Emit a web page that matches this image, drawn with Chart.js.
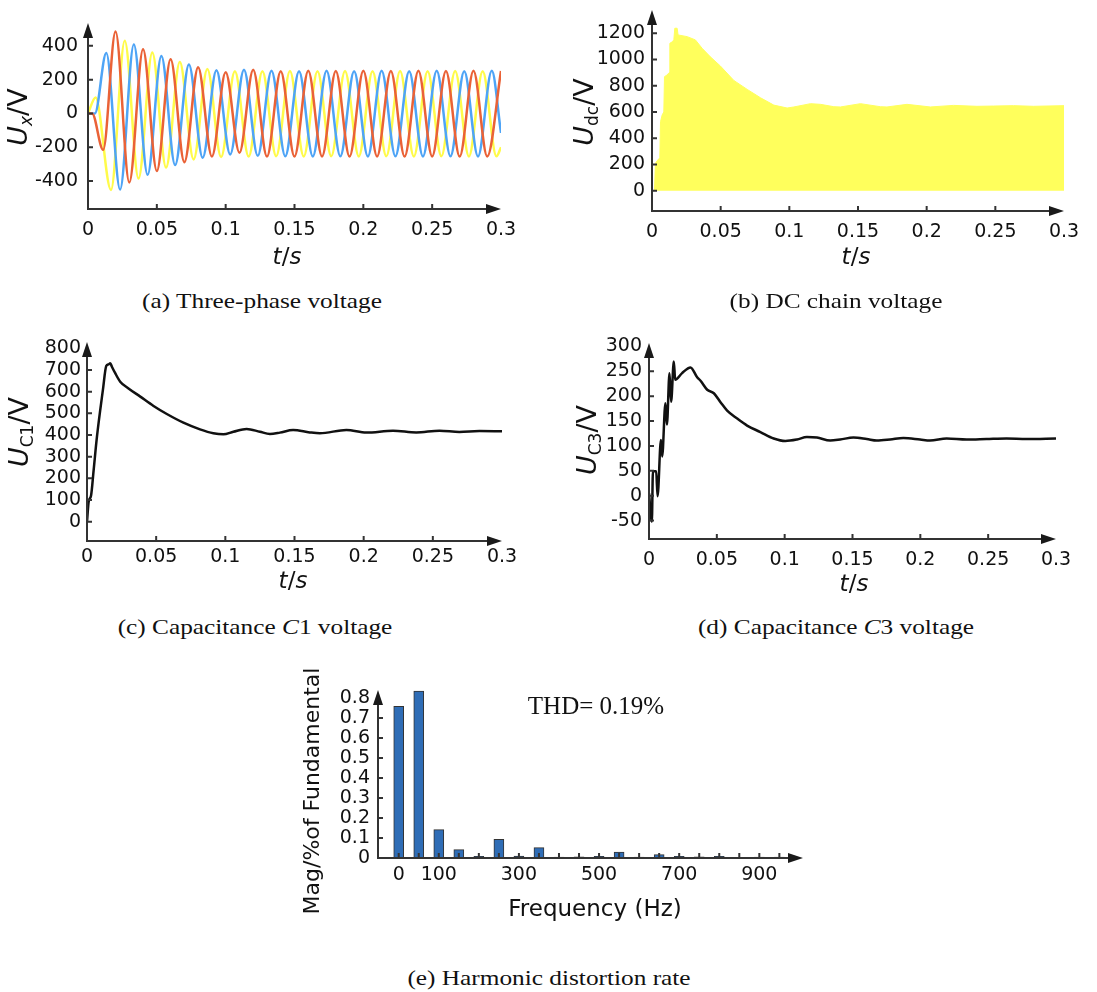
<!DOCTYPE html>
<html>
<head>
<meta charset="utf-8">
<script src="https://cdn.jsdelivr.net/npm/chart.js@4.4.1/dist/chart.umd.min.js"></script>
<style>
body{margin:0;background:#fff;width:1097px;height:992px;position:relative;overflow:hidden;font-family:"DejaVu Sans",sans-serif;color:#111;}
canvas{position:absolute;}
.yt{position:absolute;transform:translate(-50%,-50%) rotate(-90deg);white-space:nowrap;font-size:27px;line-height:1;}
.yt sub{font-size:17px;vertical-align:-5px;}
.xt{position:absolute;transform:translate(-50%,-50%);white-space:nowrap;font-size:23px;line-height:1;}
.cap{position:absolute;transform:translate(-50%,-50%) scaleX(1.15);white-space:nowrap;font-family:"Liberation Serif",serif;font-size:22px;line-height:1;}
.thd{position:absolute;transform:translate(-50%,-50%);white-space:nowrap;font-family:"Liberation Serif",serif;font-size:25px;line-height:1;}
</style>
</head>
<body>
<canvas id="ca" width="520" height="270" style="left:0;top:0"></canvas>
<canvas id="cb" width="537" height="280" style="left:560px;top:0"></canvas>
<canvas id="cc" width="520" height="270" style="left:0;top:330px"></canvas>
<canvas id="cd" width="537" height="270" style="left:560px;top:330px"></canvas>
<canvas id="ce" width="540" height="280" style="left:290px;top:650px"></canvas>

<div class="yt" style="left:19px;top:117px"><i>U</i><sub><i>x</i></sub>/V</div>
<div class="xt" style="left:287px;top:256px"><i>t</i>/<i>s</i></div>
<div class="cap" style="left:262px;top:301px">(a) Three-phase voltage</div>

<div class="yt" style="left:585px;top:112px"><i>U</i><sub>dc</sub>/V</div>
<div class="xt" style="left:856px;top:256px"><i>t</i>/<i>s</i></div>
<div class="cap" style="left:836px;top:301px">(b) DC chain voltage</div>

<div class="yt" style="left:20px;top:432px"><i>U</i><sub>C1</sub>/V</div>
<div class="xt" style="left:293px;top:580px"><i>t</i>/<i>s</i></div>
<div class="cap" style="left:255px;top:627px">(c) Capacitance <i>C</i>1 voltage</div>

<div class="yt" style="left:588px;top:440px"><i>U</i><sub>C3</sub>/V</div>
<div class="xt" style="left:854px;top:583px"><i>t</i>/<i>s</i></div>
<div class="cap" style="left:836px;top:627px">(d) Capacitance <i>C</i>3 voltage</div>

<div class="yt" style="left:312px;top:791px;font-size:22px">Mag/%of Fundamental</div>
<div class="xt" style="left:595px;top:908px">Frequency (Hz)</div>
<div class="thd" style="left:596px;top:705px">THD= 0.19%</div>
<div class="cap" style="left:549px;top:978px">(e) Harmonic distortion rate</div>

<script>
// ---------- data ----------
// (a) three-phase voltage, peaks / troughs of each phase
const redT = [0, 0.003, 0.011, 0.02, 0.03, 0.04, 0.05, 0.06, 0.07, 0.08, 0.09, 0.10, 0.11,
  0.12, 0.13, 0.14, 0.15, 0.16, 0.17, 0.18, 0.19, 0.20, 0.21, 0.22, 0.23, 0.24, 0.25, 0.26, 0.27, 0.28, 0.29, 0.30];
const redV = [0, 0, -215, 484, -408, 380, -340, 321, -288, 274, -255, 243, -232,
  258, -255, 250, -255, 252, -254, 251, -255, 252, -254, 251, -255, 252, -254, 251, -255, 252, -254, 251];

const blueT = [0, 0.005, 0.0133, 0.0233, 0.0333, 0.0433, 0.0533, 0.0633, 0.0733, 0.0833, 0.0933, 0.1033,
  0.1133, 0.1233, 0.1333, 0.1433, 0.1533, 0.1633, 0.1733, 0.1833, 0.1933, 0.2033, 0.2133, 0.2233,
  0.2333, 0.2433, 0.2533, 0.2633, 0.2733, 0.2833, 0.2933, 0.3];
const blueV = [0, 0, 357, -450, 408, -362, 340, -305, 290, -262, 256, -242,
  258, -250, 252, -253, 250, -254, 252, -253, 250, -254, 252, -253,
  250, -254, 252, -253, 250, -254, 252, -115];

const yellowT = [0, 0.0055, 0.0167, 0.0267, 0.0367, 0.0467, 0.0567, 0.0667, 0.0767, 0.0867, 0.0967,
  0.1067, 0.1167, 0.1267, 0.1367, 0.1467, 0.1567, 0.1667, 0.1767, 0.1867, 0.1967, 0.2067, 0.2167,
  0.2267, 0.2367, 0.2467, 0.2567, 0.2667, 0.2767, 0.2867, 0.2967, 0.3];
const yellowV = [0, 95, -452, 430, -385, 360, -320, 305, -272, 263, -258,
  249, -255, 250, -253, 251, -254, 250, -253, 251, -254, 250, -253,
  251, -254, 250, -253, 251, -254, 250, -253, -200];

// (b) DC chain voltage envelope
const dcT = [0, 0.0018, 0.0025, 0.0042, 0.0057, 0.0062, 0.0074, 0.0086, 0.0091, 0.011, 0.0125, 0.013,
  0.0149, 0.0159, 0.0166, 0.0183, 0.019, 0.0256, 0.0316, 0.0365, 0.0425, 0.0498, 0.0596, 0.0693,
  0.079, 0.0887, 0.0984, 0.1033, 0.1154, 0.1227, 0.1324, 0.1372, 0.1518, 0.1663, 0.1711, 0.1857,
  0.2027, 0.2196, 0.2366, 0.2487, 0.2633, 0.2778, 0.3];
const dcV = [0, 0, 209, 234, 250, 526, 577, 600, 869, 882, 900, 1123,
  1136, 1150, 1238, 1238, 1187, 1174, 1149, 1085, 1020, 950, 840, 772,
  708, 652, 630, 638, 663, 658, 640, 638, 663, 640, 638, 658,
  638, 650, 643, 645, 648, 643, 648];

// (c) capacitor C1 voltage
const c1T = [0, 0.0012, 0.0029, 0.0048, 0.0072, 0.0115, 0.0139, 0.0156, 0.0168, 0.018, 0.0204, 0.024,
  0.03, 0.0385, 0.0481, 0.0577, 0.0697, 0.0817, 0.0913, 0.0986, 0.1058, 0.1154, 0.125, 0.1322,
  0.1394, 0.149, 0.161, 0.1683, 0.1875, 0.2019, 0.2212, 0.238, 0.2548, 0.2692, 0.2837, 0.3];
const c1V = [0, 92, 120, 238, 392, 608, 718, 726, 731, 715, 685, 646,
  615, 577, 534, 497, 457, 426, 408, 403, 415, 428, 415, 405,
  411, 423, 412, 408, 423, 411, 420, 412, 420, 414, 418, 417];

// (d) capacitor C3 voltage
const c3T = [0, 0.0021, 0.0029, 0.0053, 0.0063, 0.0088, 0.0097, 0.0121, 0.0132, 0.0151, 0.0163, 0.0183,
  0.0193, 0.0242, 0.0306, 0.0355, 0.038, 0.0429, 0.0478, 0.0527, 0.0576, 0.065, 0.0723, 0.0821,
  0.0919, 0.1005, 0.1091, 0.1164, 0.1238, 0.1336, 0.1409, 0.1507, 0.1605, 0.1679, 0.1777, 0.1875,
  0.1998, 0.2071, 0.2194, 0.2341, 0.2488, 0.2635, 0.2782, 0.3];
const c3V = [5, -52, 49, 49, -1, 112, 79, 186, 143, 246, 189, 270,
  233, 246, 258, 238, 231, 213, 206, 188, 171, 155, 141, 128,
  115, 110, 113, 118, 117, 111, 113, 117, 114, 111, 113, 116,
  113, 111, 115, 113, 114, 115, 114, 115];

// (e) harmonic spectrum
const freqs = [0, 50, 100, 150, 200, 250, 300, 350, 400, 450, 500, 550, 600, 650, 700, 750, 800, 850, 900, 950];
const mags = [0.758, 0.835, 0.142, 0.042, 0.008, 0.093, 0.01, 0.052, 0.005, 0.006,
  0.008, 0.03, 0.005, 0.017, 0.008, 0.006, 0.008, 0.003, 0.004, 0.004];

// tick labels
const tTicks = [0, 0.05, 0.1, 0.15, 0.2, 0.25, 0.3];
const uxTicks = [-400, -200, 0, 200, 400];
const udcTicks = [0, 200, 400, 600, 800, 1000, 1200];
const uc1Ticks = [0, 100, 200, 300, 400, 500, 600, 700, 800];
const uc3Ticks = [-50, 0, 50, 100, 150, 200, 250, 300];
const freqTicks = [0, 100, 300, 500, 700, 900];
const magTicks = [0, 0.1, 0.2, 0.3, 0.4, 0.5, 0.6, 0.7, 0.8];

// ---------- drawing ----------
const pts = (ts, vs) => ts.map((t, i) => ({x: t, y: vs[i]}));
const tickFont = {family: 'DejaVu Sans', size: 19};

// axis lines with arrow heads and inward tick marks
const arrowAxes = {
  id: 'arrowAxes',
  afterDraw(chart, args, o) {
    const {ctx, chartArea: a, scales: {x, y}} = chart;
    ctx.save();
    ctx.strokeStyle = '#333';
    ctx.fillStyle = '#1a1a1a';
    ctx.lineWidth = 2;
    ctx.beginPath();
    ctx.moveTo(a.left, a.top + 10);
    ctx.lineTo(a.left, a.bottom);
    ctx.lineTo(a.right - 10, a.bottom);
    (o.xMarks || []).forEach(v => {
      const px = x.getPixelForValue(v);
      if (px > a.left + 2 && px < a.right - 12) { ctx.moveTo(px, a.bottom); ctx.lineTo(px, a.bottom - 5); }
    });
    (o.yMarks || []).forEach(v => {
      const py = y.getPixelForValue(v);
      if (py < a.bottom - 2 && py > a.top + 12) { ctx.moveTo(a.left, py); ctx.lineTo(a.left + 5, py); }
    });
    ctx.stroke();
    ctx.beginPath();
    ctx.moveTo(a.left, a.top); ctx.lineTo(a.left - 5, a.top + 15); ctx.lineTo(a.left + 5, a.top + 15); ctx.closePath();
    ctx.moveTo(a.right, a.bottom); ctx.lineTo(a.right - 15, a.bottom - 5); ctx.lineTo(a.right - 15, a.bottom + 5); ctx.closePath();
    ctx.fill();
    ctx.restore();
  }
};
Chart.register(arrowAxes);

function frame(f) {
  return {
    responsive: false,
    animation: false,
    events: [],
    layout: {padding: {left: 0, top: f.top, right: f.w - f.right, bottom: 0}},
    plugins: {
      legend: {display: false},
      tooltip: {enabled: false},
      arrowAxes: {xMarks: f.xMarks || f.xTicks, yMarks: f.yTicks}
    },
    scales: {
      x: {
        type: 'linear', min: f.xmin, max: f.xmax, offset: false,
        grid: {display: false, drawTicks: false}, border: {display: false},
        ticks: {font: tickFont, color: '#111', padding: f.xPad, autoSkip: false, maxRotation: 0,
          callback: v => String(v)},
        afterBuildTicks: s => { s.ticks = f.xTicks.map(v => ({value: v})); },
        afterFit: s => { s.height = f.h - f.bottom; s.paddingLeft = 0; s.paddingRight = 0; }
      },
      y: {
        type: 'linear', min: f.ymin, max: f.ymax,
        grid: {display: false, drawTicks: false}, border: {display: false},
        ticks: {font: tickFont, color: '#111', padding: f.yPad, autoSkip: false,
          callback: v => String(v)},
        afterBuildTicks: s => { s.ticks = f.yTicks.map(v => ({value: v})); },
        afterFit: s => { s.width = f.left; s.paddingTop = 0; s.paddingBottom = 0; }
      }
    }
  };
}

const line = (data, color, extra) => Object.assign({
  data, borderColor: color, borderWidth: 2.5, pointRadius: 0,
  cubicInterpolationMode: 'monotone', fill: false
}, extra || {});

// (a)
new Chart(document.getElementById('ca'), {
  type: 'line',
  data: {datasets: [
    line(pts(redT, redV), '#EA6237'),
    line(pts(blueT, blueV), '#4EA4F6'),
    line(pts(yellowT, yellowV), '#FFFB4A')
  ]},
  options: frame({w: 520, h: 270, left: 88, right: 501, top: 23, bottom: 209,
    xmin: 0, xmax: 0.3, ymin: -565, ymax: 535, xTicks: tTicks, yTicks: uxTicks, xPad: 10, yPad: 10})
});

// (b)
new Chart(document.getElementById('cb'), {
  type: 'line',
  data: {datasets: [
    line(pts(dcT, dcV), '#FFFF5C', {fill: 'origin', backgroundColor: '#FFFF5C', borderWidth: 1, cubicInterpolationMode: 'default', tension: 0})
  ]},
  options: frame({w: 537, h: 280, left: 92, right: 504, top: 10, bottom: 211,
    xmin: 0, xmax: 0.3, ymin: -155, ymax: 1377, xTicks: tTicks, yTicks: udcTicks, xPad: 10, yPad: 7})
});

// (c)
new Chart(document.getElementById('cc'), {
  type: 'line',
  data: {datasets: [line(pts(c1T, c1V), '#111')]},
  options: frame({w: 520, h: 270, left: 87, right: 502, top: 12, bottom: 211,
    xmin: 0, xmax: 0.3, ymin: -89, ymax: 829, xTicks: tTicks, yTicks: uc1Ticks, xPad: 5, yPad: 6})
});

// (d)
new Chart(document.getElementById('cd'), {
  type: 'line',
  data: {datasets: [line(pts(c3T, c3V), '#111')]},
  options: frame({w: 537, h: 270, left: 89, right: 496, top: 13, bottom: 209,
    xmin: 0, xmax: 0.3, ymin: -87, ymax: 307, xTicks: tTicks, yTicks: uc3Ticks, xPad: 10, yPad: 7})
});

// (e)
new Chart(document.getElementById('ce'), {
  type: 'bar',
  data: {datasets: [{
    data: pts(freqs, mags), backgroundColor: '#2F6DB6', borderColor: '#333',
    borderWidth: 1, barThickness: 10
  }]},
  options: frame({w: 540, h: 280, left: 88, right: 513, top: 40, bottom: 208,
    xmin: -51.7, xmax: 1009, ymin: 0, ymax: 0.84, xTicks: freqTicks, xMarks: freqs, yTicks: magTicks, xPad: 6, yPad: 8})
});
</script>
</body>
</html>
